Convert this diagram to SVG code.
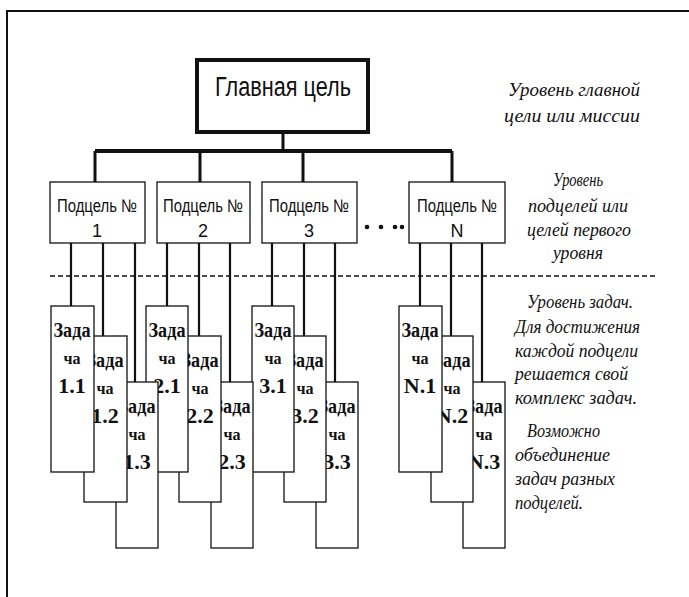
<svg xmlns="http://www.w3.org/2000/svg" width="689" height="597" viewBox="0 0 689 597">
<style>
.frame{fill:none;stroke:#111;stroke-width:2}
.main{fill:#fff;stroke:#111;stroke-width:4}
.sub{fill:#fff;stroke:#111;stroke-width:1.3}
.task{fill:#fff;stroke:#111;stroke-width:1.3}
.bus{fill:none;stroke:#111;stroke-width:4}
.drop{fill:none;stroke:#111;stroke-width:3}
.link{fill:none;stroke:#111;stroke-width:2.2}
.dash{fill:none;stroke:#111;stroke-width:1.3;stroke-dasharray:5 3}
.sans{font-family:"Liberation Sans",Arial,sans-serif;fill:#111;text-anchor:middle}
.tt{font-family:"Liberation Serif","Times New Roman",serif;font-weight:bold;fill:#111;text-anchor:middle}
.note{font-family:"Liberation Serif","Times New Roman",serif;font-style:italic;fill:#111;font-size:19px}
</style>
<path class="frame" d="M7,597 V11 H689"/>
<g id="connectors">
<path class="drop" d="M283,132 V151"/>
<path class="bus" d="M95,151 H452"/>
<path class="drop" d="M95,151 V182 M200,151 V182 M303,151 V182 M452,151 V182"/>
<path class="link" d="M71,243 V306 M103,243 V336 M135,243 V382"/>
<path class="link" d="M167,243 V306 M199,243 V336 M230,243 V382"/>
<path class="link" d="M272,243 V306 M304,243 V336 M335,243 V382"/>
<path class="link" d="M420,243 V306 M451,243 V336 M482,243 V382"/>
<path class="dash" d="M50,276 H655"/>
</g>
<g id="main-goal">
<rect class="main" x="197" y="60" width="171" height="72"/>
<text class="sans" x="283" y="96" font-size="27" textLength="136" lengthAdjust="spacingAndGlyphs">Главная цель</text>
</g>
<g id="sub-1">
<rect class="sub" x="50" y="182" width="95" height="61"/>
<text class="sans" x="97" y="212" font-size="18" textLength="80" lengthAdjust="spacingAndGlyphs">Подцель №</text>
<text class="sans" x="97" y="237" font-size="18">1</text>
</g>
<g id="sub-2">
<rect class="sub" x="157" y="182" width="93" height="61"/>
<text class="sans" x="203" y="212" font-size="18" textLength="80" lengthAdjust="spacingAndGlyphs">Подцель №</text>
<text class="sans" x="203" y="237" font-size="18">2</text>
</g>
<g id="sub-3">
<rect class="sub" x="262" y="182" width="95" height="61"/>
<text class="sans" x="309" y="212" font-size="18" textLength="80" lengthAdjust="spacingAndGlyphs">Подцель №</text>
<text class="sans" x="309" y="237" font-size="18">3</text>
</g>
<g id="ellipsis">
<circle cx="367" cy="227" r="2.3" fill="#111"/>
<circle cx="381" cy="227" r="2.3" fill="#111"/>
<circle cx="395" cy="227" r="2.3" fill="#111"/>
<circle cx="402" cy="227" r="2.3" fill="#111"/>
</g>
<g id="sub-N">
<rect class="sub" x="409" y="182" width="96" height="61"/>
<text class="sans" x="457" y="212" font-size="18" textLength="80" lengthAdjust="spacingAndGlyphs">Подцель №</text>
<text class="sans" x="457" y="237" font-size="18">N</text>
</g>
<g id="task-N3"><rect class="task" x="463" y="382" width="42" height="166"/><text class="tt" x="484" y="413" font-size="20" textLength="37" lengthAdjust="spacingAndGlyphs">Зада</text><text class="tt" x="484" y="440" font-size="16">ча</text><text class="tt" x="484" y="469" font-size="22">N.3</text></g>
<g id="task-N2"><rect class="task" x="431" y="336" width="42" height="166"/><text class="tt" x="452" y="367" font-size="20" textLength="37" lengthAdjust="spacingAndGlyphs">Зада</text><text class="tt" x="452" y="394" font-size="16">ча</text><text class="tt" x="452" y="423" font-size="22">N.2</text></g>
<g id="task-N1"><rect class="task" x="399" y="306" width="43" height="166"/><text class="tt" x="420" y="337" font-size="20" textLength="37" lengthAdjust="spacingAndGlyphs">Зада</text><text class="tt" x="420" y="364" font-size="16">ча</text><text class="tt" x="420" y="393" font-size="22">N.1</text></g>
<g id="task-33"><rect class="task" x="316" y="382" width="42" height="166"/><text class="tt" x="337" y="413" font-size="20" textLength="37" lengthAdjust="spacingAndGlyphs">Зада</text><text class="tt" x="337" y="440" font-size="16">ча</text><text class="tt" x="337" y="469" font-size="22">3.3</text></g>
<g id="task-32"><rect class="task" x="284" y="336" width="42" height="166"/><text class="tt" x="305" y="367" font-size="20" textLength="37" lengthAdjust="spacingAndGlyphs">Зада</text><text class="tt" x="305" y="394" font-size="16">ча</text><text class="tt" x="305" y="423" font-size="22">3.2</text></g>
<g id="task-31"><rect class="task" x="252" y="306" width="42" height="166"/><text class="tt" x="273" y="337" font-size="20" textLength="37" lengthAdjust="spacingAndGlyphs">Зада</text><text class="tt" x="273" y="364" font-size="16">ча</text><text class="tt" x="273" y="393" font-size="22">3.1</text></g>
<g id="task-23"><rect class="task" x="211" y="382" width="42" height="166"/><text class="tt" x="232" y="413" font-size="20" textLength="37" lengthAdjust="spacingAndGlyphs">Зада</text><text class="tt" x="232" y="440" font-size="16">ча</text><text class="tt" x="232" y="469" font-size="22">2.3</text></g>
<g id="task-22"><rect class="task" x="179" y="336" width="42" height="166"/><text class="tt" x="200" y="367" font-size="20" textLength="37" lengthAdjust="spacingAndGlyphs">Зада</text><text class="tt" x="200" y="394" font-size="16">ча</text><text class="tt" x="200" y="423" font-size="22">2.2</text></g>
<g id="task-21"><rect class="task" x="146" y="306" width="42" height="166"/><text class="tt" x="167" y="337" font-size="20" textLength="37" lengthAdjust="spacingAndGlyphs">Зада</text><text class="tt" x="167" y="364" font-size="16">ча</text><text class="tt" x="167" y="393" font-size="22">2.1</text></g>
<g id="task-13"><rect class="task" x="116" y="382" width="42" height="166"/><text class="tt" x="137" y="413" font-size="20" textLength="37" lengthAdjust="spacingAndGlyphs">Зада</text><text class="tt" x="137" y="440" font-size="16">ча</text><text class="tt" x="137" y="469" font-size="22">1.3</text></g>
<g id="task-12"><rect class="task" x="84" y="336" width="43" height="166"/><text class="tt" x="105" y="367" font-size="20" textLength="37" lengthAdjust="spacingAndGlyphs">Зада</text><text class="tt" x="105" y="394" font-size="16">ча</text><text class="tt" x="105" y="423" font-size="22">1.2</text></g>
<g id="task-11"><rect class="task" x="51" y="306" width="43" height="166"/><text class="tt" x="72" y="337" font-size="20" textLength="37" lengthAdjust="spacingAndGlyphs">Зада</text><text class="tt" x="72" y="364" font-size="16">ча</text><text class="tt" x="72" y="393" font-size="22">1.1</text></g>
<g id="notes">
<text class="note" x="574" y="96" text-anchor="middle" textLength="132" lengthAdjust="spacingAndGlyphs">Уровень главной</text>
<text class="note" x="572" y="122" text-anchor="middle" textLength="136" lengthAdjust="spacingAndGlyphs">цели или миссии</text>
<text class="note" x="578" y="186" text-anchor="middle" textLength="50" lengthAdjust="spacingAndGlyphs">Уровень</text>
<text class="note" x="578" y="212" text-anchor="middle" textLength="100" lengthAdjust="spacingAndGlyphs">подцелей или</text>
<text class="note" x="579" y="236" text-anchor="middle" textLength="104" lengthAdjust="spacingAndGlyphs">целей первого</text>
<text class="note" x="578" y="259" text-anchor="middle" textLength="50" lengthAdjust="spacingAndGlyphs">уровня</text>
<text class="note" x="527" y="308" textLength="106" lengthAdjust="spacingAndGlyphs">Уровень задач.</text>
<text class="note" x="515" y="333" textLength="125" lengthAdjust="spacingAndGlyphs">Для достижения</text>
<text class="note" x="515" y="357" textLength="123" lengthAdjust="spacingAndGlyphs">каждой подцели</text>
<text class="note" x="515" y="380" textLength="113" lengthAdjust="spacingAndGlyphs">решается свой</text>
<text class="note" x="515" y="404" textLength="122" lengthAdjust="spacingAndGlyphs">комплекс задач.</text>
<text class="note" x="527" y="437" textLength="73" lengthAdjust="spacingAndGlyphs">Возможно</text>
<text class="note" x="515" y="461" textLength="95" lengthAdjust="spacingAndGlyphs">объединение</text>
<text class="note" x="515" y="485" textLength="100" lengthAdjust="spacingAndGlyphs">задач разных</text>
<text class="note" x="515" y="509" textLength="68" lengthAdjust="spacingAndGlyphs">подцелей.</text>
</g>
</svg>
